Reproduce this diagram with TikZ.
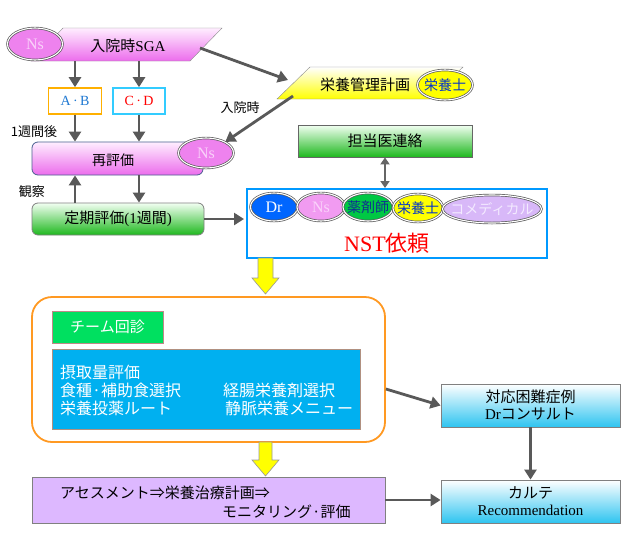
\documentclass[tikz,border=0pt]{standalone}
\usepackage{fontspec}
\setmainfont{Liberation Serif}
\newfontfamily\jp{Noto Sans CJK JP}
\usetikzlibrary{shapes.geometric,arrows.meta}
\definecolor{agray}{HTML}{595959}
\definecolor{sgaT}{HTML}{FFEEFF}
\definecolor{sgaB}{HTML}{EC6CEC}
\definecolor{nsV}{HTML}{EE82EE}
\definecolor{nsT}{HTML}{FAD2FA}
\definecolor{abOr}{HTML}{FFB000}
\definecolor{abBl}{HTML}{1E78D2}
\definecolor{cdCy}{HTML}{33CCFF}
\definecolor{rehyD}{HTML}{4A6090}
\definecolor{grT}{HTML}{F2FFF2}
\definecolor{grB}{HTML}{1EB81E}
\definecolor{ylB}{HTML}{FFFF00}
\definecolor{nstB}{HTML}{0099FF}
\definecolor{drB}{HTML}{0066FF}
\definecolor{yakG}{HTML}{00C844}
\definecolor{yakT}{HTML}{103090}
\definecolor{eyT}{HTML}{0033CC}
\definecolor{coF}{HTML}{D8B8F8}
\definecolor{coT}{HTML}{F3EAFF}
\definecolor{orgB}{HTML}{FF9922}
\definecolor{teamG}{HTML}{00E060}
\definecolor{teamD}{HTML}{C08888}
\definecolor{bluF}{HTML}{00B0F0}
\definecolor{bluD}{HTML}{B09080}
\definecolor{purF}{HTML}{DDB8FF}
\definecolor{cyB}{HTML}{2EC4F0}
\newcommand\jpsz[1]{\fontsize{#1}{#1}\selectfont}
\begin{document}
\begin{tikzpicture}[x=1pt,y=-1pt,
  arr/.style={draw=agray, line width=2.8pt, -{Triangle[length=10pt,width=12pt]}},
  dblarr/.style={draw=black!60, line width=2pt, {Triangle[length=7pt,width=9pt]}-{Triangle[length=7pt,width=9pt]}},
  ell/.style={ellipse, draw=black!65, double=white, double distance=1.1pt, line width=0.7pt, inner sep=0pt},
  lbl/.style={inner sep=0pt, font=\jp\jpsz{14}},
  box/.style={draw=black!50, line width=0.8pt, inner sep=0pt},
  yarrow/.style={fill=ylB, draw=black!40, line width=0.6pt}
]
\useasboundingbox[fill=white] (0,0) rectangle (630,550);

% --- 入院時SGA ---
\shade[top color=sgaT, bottom color=sgaB, draw=black!45] (31,61) -- (63,28) -- (222,28) -- (190,61) -- cycle;
\node[inner sep=0pt, minimum width=127, minimum height=33] (sga) at (126.5,44.5) {};
\node[lbl, font=\jpsz{15}] (sgat) at (128,46) {{\jp 入院時}SGA};
\node[ell, fill=nsV, minimum width=55, minimum height=32] (ns1) at (35,44) {\makebox[0pt]{\jpsz{16}\color{nsT}Ns}};

% --- A・B / C・D ---
\node[box, draw=abOr, line width=1.6pt, fill=white, minimum width=53, minimum height=26, text=abBl, font=\jpsz{14}] (ab) at (75,101) {A\,·\,B};
\node[box, draw=cdCy, line width=1.6pt, fill=white, minimum width=52, minimum height=26, text=red, font=\jpsz{14}] (cd) at (139,101) {C\,·\,D};

% --- 再評価 ---
\node[box, draw=rehyD, rounded corners=6pt, top color=sgaT, bottom color=sgaB, minimum width=171, minimum height=33] (rehy) at (117.5,158.5) {};
\node[lbl] (rehyt) at (113,160) {再評価};
\node[ell, fill=nsV, minimum width=55, minimum height=30] (ns2) at (206,153) {\makebox[0pt]{\jpsz{16}\color{nsT}Ns}};

% --- 定期評価 ---
\node[box, rounded corners=6pt, top color=grT, bottom color=grB, minimum width=172, minimum height=32, font=\jpsz{15}] (teiki) at (118,219) {{\jp 定期評価}(1{\jp 週間})};

% --- labels ---
\node[lbl, font=\jp\jpsz{13}] (l1) at (34,132) {1週間後};
\node[lbl, font=\jp\jpsz{13}] (l2) at (32,192) {観察};
\node[lbl, font=\jp\jpsz{13}] (l3) at (240,108) {入院時};

% --- 栄養管理計画 ---
\shade[top color=white, bottom color=ylB, draw=black!45] (277,99) -- (310,67) -- (463,67) -- (430,99) -- cycle;
\node[inner sep=0pt, minimum width=120, minimum height=32] (eiyo) at (370,83) {};
\node[lbl, font=\jp\jpsz{15}] (eiyot) at (365,85) {栄養管理計画};
\node[ell, fill=ylB, minimum width=55, minimum height=30] (eyns) at (445,85) {\makebox[0pt]{\jp\jpsz{14}\color{eyT}栄養士}};

% --- 担当医連絡 ---
\node[box, draw=black!60, top color=grT, bottom color=grB, minimum width=174, minimum height=32, font=\jp\jpsz{15}] (tanto) at (385,141) {担当医連絡};

% --- NST box ---
\node[draw=nstB, line width=2pt, fill=white, minimum width=300, minimum height=69, inner sep=0pt] (nst) at (397,223.5) {};
\node[ell, fill=drB, minimum width=47, minimum height=28] (mdr) at (274,207) {\makebox[0pt]{\jpsz{16}\color{white}Dr}};
\node[ell, fill=nsV!80!white, minimum width=48, minimum height=28] (mns) at (321,207) {\makebox[0pt]{\jpsz{16}\color{nsT}Ns}};
\node[ell, fill=yakG, minimum width=50, minimum height=28] (myak) at (368,207) {\makebox[0pt]{\jp\jpsz{14}\color{yakT}薬剤師}};
\node[ell, fill=ylB, minimum width=50, minimum height=28] (meiy) at (418,208) {\makebox[0pt]{\jp\jpsz{14}\color{eyT}栄養士}};
\node[ell, fill=coF, minimum width=99, minimum height=28] (mco) at (492,209) {\makebox[0pt]{\jp\jpsz{14}\color{coT}コメディカル}};
\node[inner sep=0pt, text=red, font=\jpsz{22}] (nstt) at (387,243) {NST{\jp 依頼}};

% --- yellow arrow 1 ---
\draw[yarrow] (258,258) -- (273,258) -- (273,278) -- (279,278) -- (265.5,294) -- (252,278) -- (258,278) -- cycle;

% --- orange box ---
\node[draw=orgB, line width=1.8pt, rounded corners=20pt, fill=white, minimum width=353, minimum height=145, inner sep=0pt] (org) at (208.5,369.5) {};
\node[draw=teamD, line width=0.8pt, fill=teamG, minimum width=111, minimum height=32, inner sep=0pt, text=white, font=\jp\jpsz{15}] (team) at (107.5,327) {チーム回診};
\node[draw=bluD, line width=0.8pt, fill=bluF, minimum width=308, minimum height=80, inner sep=0pt] (blu) at (206,389) {};
\begin{scope}[every node/.style={inner sep=0pt, anchor=west, text=white, font=\jp\jpsz{16}}]
\node (b1) at (60,372) {摂取量評価};
\node (b2) at (60,390) {食種·補助食選択};
\node (b3) at (223,390) {経腸栄養剤選択};
\node (b4) at (60,408) {栄養投薬ルート};
\node (b5) at (225,408) {静脈栄養メニュー};
\end{scope}

% --- yellow arrow 2 ---
\draw[yarrow] (259,442) -- (272,442) -- (272,460) -- (279,460) -- (265.5,476) -- (252,460) -- (259,460) -- cycle;

% --- purple box ---
\node[box, fill=purF, minimum width=353, minimum height=46] (pur) at (208.5,500) {};
\node[inner sep=0pt, anchor=west, font=\jp\jpsz{15}] (p1) at (60,493) {アセスメント⇒栄養治療計画⇒};
\node[inner sep=0pt, anchor=west, font=\jp\jpsz{15}] (p2) at (222,512) {モニタリング·評価};

% --- right boxes ---
\node[box, top color=white, bottom color=cyB, minimum width=179, minimum height=43, align=center, font=\jpsz{15}] (taio) at (530.5,405.5) {{\jp 対応困難症例}\\[2pt]Dr{\jp コンサルト}};
\node[box, top color=white, bottom color=cyB, minimum width=179, minimum height=43, align=center, font=\jpsz{15}] (karte) at (530.5,501.5) {{\jp カルテ}\\[2pt]Recommendation};

% --- connectors ---
\draw[arr] (sga.south -| ab.north) -- (ab.north);
\draw[arr] (sga.south -| cd.north) -- (cd.north);
\draw[arr] (ab.south) -- (ab.south |- rehy.north);
\draw[arr] (cd.south) -- (cd.south |- rehy.north);
\draw[arr] (teiki.north -| ab.south) -- (rehy.south -| ab.south);
\draw[arr] (rehy.south -| cd.south) -- (teiki.north -| cd.south);
\coordinate (sgaR) at (200,48);
\coordinate (eiyoL) at (288,80);
\draw[arr] (sgaR) -- (eiyoL);
\coordinate (eiyoBL) at (293,96);
\draw[arr] (eiyoBL) -- (ns2.30);
\draw[arr] (teiki.east) -- ([xshift=-2pt]teiki.east -| nst.west);
\draw[dblarr] (tanto.south) -- (tanto.south |- nst.north);
\draw[arr] ([yshift=-19.5pt]org.east) -- (taio.west);
\draw[arr] (taio.south) -- (karte.north);
\draw[arr] (pur.east) -- (pur.east -| karte.west);
\end{tikzpicture}
\end{document}
